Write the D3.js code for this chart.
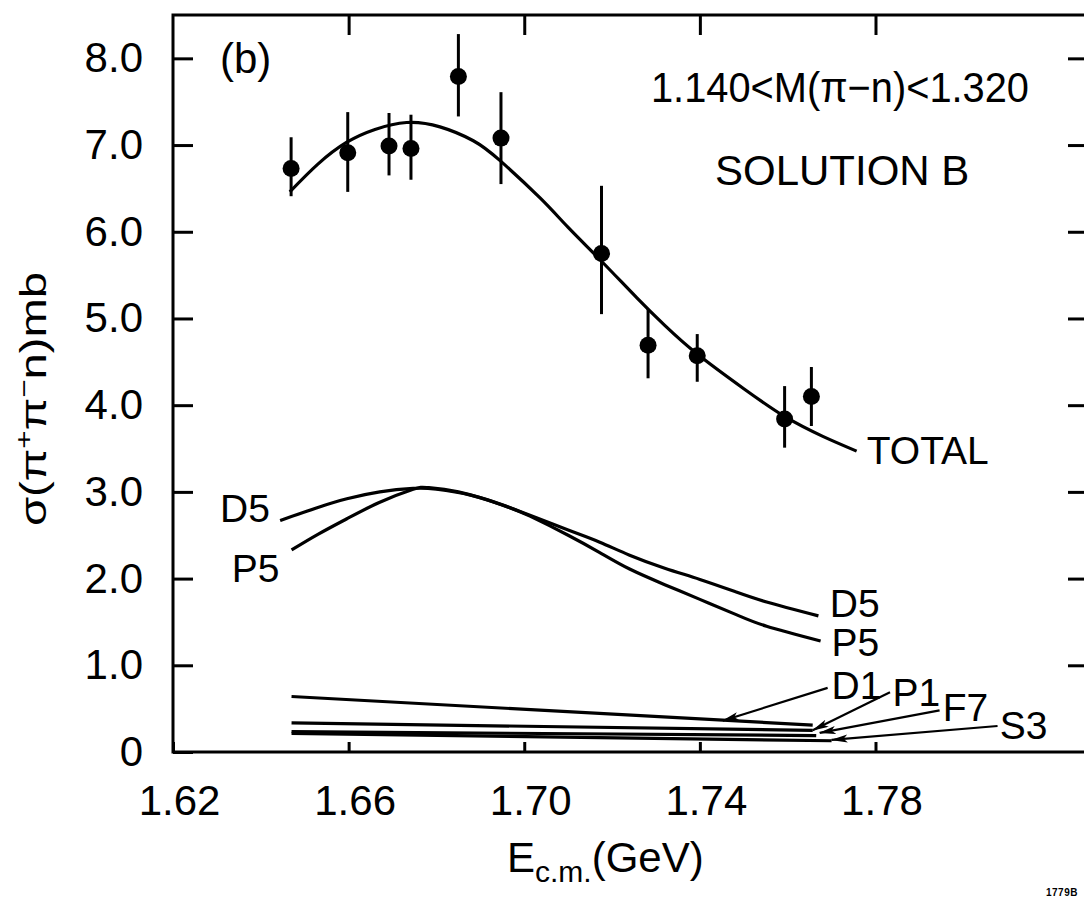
<!DOCTYPE html>
<html>
<head>
<meta charset="utf-8">
<script src="https://cdn.jsdelivr.net/npm/d3@7"></script>
<style>
body { margin: 0; background: #fff; }
svg text { font-family: "Liberation Sans", Arial, sans-serif; fill: #000; }
</style>
</head>
<body>
<svg id="chart" width="1084" height="907"></svg>
<script>
// values (b), solution B
var pointE = [1.6469, 1.6598, 1.6692, 1.6742, 1.6850, 1.6947, 1.7176, 1.7282, 1.7394, 1.7593, 1.7654];
var pointS = [6.73, 6.91, 6.99, 6.96, 7.79, 7.08, 5.75, 4.69, 4.57, 3.84, 4.10];
var errLow = [6.41, 6.46, 6.65, 6.60, 7.33, 6.55, 5.05, 4.31, 4.27, 3.51, 3.76];
var errHigh = [7.09, 7.38, 7.37, 7.35, 8.28, 7.61, 6.53, 5.11, 4.82, 4.22, 4.44];

var totalE = [1.6466, 1.6530, 1.6595, 1.6660, 1.6732, 1.6808, 1.6884, 1.6945, 1.7036, 1.7100, 1.7176, 1.7256, 1.7320, 1.7394, 1.7500, 1.7593, 1.7680, 1.7757];
var totalS = [6.46, 6.78, 7.03, 7.18, 7.26, 7.21, 7.05, 6.82, 6.39, 6.05, 5.66, 5.24, 4.92, 4.59, 4.19, 3.87, 3.64, 3.47];

var d5E = [1.6444, 1.6530, 1.6596, 1.6671, 1.6747, 1.6800, 1.6880, 1.6950, 1.7013, 1.7100, 1.7172, 1.7240, 1.7320, 1.7400, 1.7480, 1.7552, 1.7670];
var d5S = [2.67, 2.82, 2.92, 3.00, 3.04, 3.03, 2.96, 2.85, 2.73, 2.56, 2.42, 2.27, 2.12, 1.99, 1.85, 1.73, 1.57];

var p5E = [1.6470, 1.6530, 1.6596, 1.6671, 1.6747, 1.6780, 1.6850, 1.6950, 1.7013, 1.7100, 1.7172, 1.7240, 1.7320, 1.7400, 1.7480, 1.7552, 1.7675];
var p5S = [2.33, 2.51, 2.69, 2.88, 3.03, 3.05, 3.00, 2.85, 2.72, 2.50, 2.30, 2.11, 1.93, 1.76, 1.59, 1.45, 1.28];

var d1E = [1.647, 1.7657], d1S = [0.64, 0.31];
var p1E = [1.647, 1.7657], p1S = [0.335, 0.25];
var f7E = [1.647, 1.7665], f7S = [0.235, 0.19];
var s3E = [1.647, 1.7700], s3S = [0.215, 0.13];

var xTicks = [1.62, 1.66, 1.70, 1.74, 1.78];
var yTicks = [0, 1, 2, 3, 4, 5, 6, 7, 8];

// curve labels: text, E, sigma at the text baseline start
var labelText = ["TOTAL", "D5", "P5", "D5", "P5", "D1", "P1", "F7", "S3"];
var labelE = [1.7780, 1.7696, 1.7700, 1.6307, 1.6334, 1.7700, 1.7839, 1.7953, 1.8083];
var labelS = [3.32, 1.56, 1.11, 2.65, 1.96, 0.61, 0.53, 0.36, 0.15];

// arrows from the small labels to their lines
var arrowFromE = [1.7691, 1.7833, 1.7946, 1.8078];
var arrowFromS = [0.74, 0.69, 0.48, 0.30];
var arrowToE = [1.7452, 1.7657, 1.7673, 1.7700];
var arrowToS = [0.36, 0.25, 0.22, 0.14];

(function(d3) {

    var svg = d3.select("#chart");

    var x = d3.scaleLinear().domain([1.62, 1.8284]).range([173, 1088]);
    var y = d3.scaleLinear().domain([0, 8.5]).range([752, 15]);

    var smooth = d3.line()
        .x(function(d) { return x(d[0]); })
        .y(function(d) { return y(d[1]); })
        .curve(d3.curveNatural);

    var straight = d3.line()
        .x(function(d) { return x(d[0]); })
        .y(function(d) { return y(d[1]); });

    var zip = function(a, b) {
        return a.map(function(v, i) { return [v, b[i]]; });
    };

    svg.append("defs").append("marker")
        .attr("id", "head")
        .attr("markerUnits", "userSpaceOnUse")
        .attr("markerWidth", 20)
        .attr("markerHeight", 10)
        .attr("refX", 16)
        .attr("refY", 4)
        .attr("orient", "auto")
        .append("path")
        .attr("d", "M0,0L17,4L0,8L4,4Z")
        .attr("fill", "#000");

    // frame
    svg.append("rect")
        .attr("x", x(1.62)).attr("y", y(8.5))
        .attr("width", x(1.8284) - x(1.62))
        .attr("height", y(0) - y(8.5))
        .attr("fill", "none")
        .attr("stroke", "#000")
        .attr("stroke-width", 3);

    var fmt = function(d) { return d === 0 ? "0" : d3.format(".1f")(d); };

    var left = svg.append("g")
        .attr("transform", "translate(" + x(1.62) + ",0)")
        .call(d3.axisLeft(y).tickValues(yTicks).tickSize(-20).tickPadding(30).tickFormat(fmt));

    var right = svg.append("g")
        .attr("transform", "translate(" + x(1.8284) + ",0)")
        .call(d3.axisRight(y).tickValues(yTicks.slice(1)).tickSize(-20).tickFormat(""));

    var top = svg.append("g")
        .attr("transform", "translate(0," + y(8.5) + ")")
        .call(d3.axisTop(x).tickValues(xTicks.slice(1)).tickSize(-20).tickFormat(""));

    var bottom = svg.append("g")
        .attr("transform", "translate(0," + y(0) + ")")
        .call(d3.axisBottom(x).tickValues(xTicks).tickSize(-10).tickPadding(33).tickFormat(d3.format(".2f")));

    [left, right, top, bottom].forEach(function(g) {
        g.select(".domain").remove();
        g.selectAll(".tick line").attr("stroke", "#000").attr("stroke-width", 3);
        g.selectAll(".tick text")
            .attr("font-size", 42)
            .attr("font-family", "Liberation Sans, Arial, sans-serif")
            .attr("fill", "#000");
    });
    bottom.selectAll(".tick text").attr("dx", 6);

    // fitted curves
    [[totalE, totalS], [d5E, d5S], [p5E, p5S]].forEach(function(c) {
        svg.append("path")
            .attr("d", smooth(zip(c[0], c[1])))
            .attr("fill", "none")
            .attr("stroke", "#000")
            .attr("stroke-width", 3.2);
    });

    // small partial waves
    [[d1E, d1S], [p1E, p1S], [f7E, f7S], [s3E, s3S]].forEach(function(c) {
        svg.append("path")
            .attr("d", straight(zip(c[0], c[1])))
            .attr("fill", "none")
            .attr("stroke", "#000")
            .attr("stroke-width", 3.2);
    });

    // error bars and points
    var pts = svg.append("g").selectAll("g")
        .data(pointE.map(function(e, i) {
            return { e: e, s: pointS[i], lo: errLow[i], hi: errHigh[i] };
        }))
        .enter().append("g");

    pts.append("line")
        .attr("x1", function(d) { return x(d.e); })
        .attr("x2", function(d) { return x(d.e); })
        .attr("y1", function(d) { return y(d.lo); })
        .attr("y2", function(d) { return y(d.hi); })
        .attr("stroke", "#000")
        .attr("stroke-width", 3);

    pts.append("circle")
        .attr("cx", function(d) { return x(d.e); })
        .attr("cy", function(d) { return y(d.s); })
        .attr("r", 8.5)
        .attr("fill", "#000");

    // arrows
    svg.append("g").selectAll("line")
        .data(arrowFromE)
        .enter().append("line")
        .attr("x1", function(d) { return x(d); })
        .attr("y1", function(d, i) { return y(arrowFromS[i]); })
        .attr("x2", function(d, i) { return x(arrowToE[i]); })
        .attr("y2", function(d, i) { return y(arrowToS[i]); })
        .attr("stroke", "#000")
        .attr("stroke-width", 2.2)
        .attr("marker-end", "url(#head)");

    // curve labels
    svg.append("g").selectAll("text")
        .data(labelText)
        .enter().append("text")
        .attr("x", function(d, i) { return x(labelE[i]); })
        .attr("y", function(d, i) { return y(labelS[i]); })
        .attr("font-size", 39)
        .text(function(d) { return d; });

    // panel texts
    svg.append("text")
        .attr("x", 220).attr("y", 73)
        .attr("font-size", 42)
        .text("(b)");

    svg.append("text")
        .attr("x", 651).attr("y", 102)
        .attr("font-size", 42)
        .attr("textLength", 378)
        .attr("lengthAdjust", "spacingAndGlyphs")
        .text("1.140<M(π−n)<1.320");

    svg.append("text")
        .attr("x", 715).attr("y", 185)
        .attr("font-size", 42)
        .text("SOLUTION B");

    // axis titles
    var xt = svg.append("text")
        .attr("x", 507).attr("y", 872)
        .attr("font-size", 42);
    xt.append("tspan").text("E");
    xt.append("tspan").attr("font-size", 30).attr("dy", 10).text("c.m.");
    xt.append("tspan").attr("dy", -10).text("(GeV)");

    var yt = svg.append("text")
        .attr("transform", "translate(46,399) rotate(-90)")
        .attr("text-anchor", "middle")
        .attr("font-size", 36)
        .attr("textLength", 254)
        .attr("lengthAdjust", "spacingAndGlyphs");
    yt.append("tspan").text("σ(π");
    yt.append("tspan").attr("font-size", 24).attr("dy", -14).text("+");
    yt.append("tspan").attr("dy", 14).text("π");
    yt.append("tspan").attr("font-size", 24).attr("dy", -14).text("−");
    yt.append("tspan").attr("dy", 14).text("n)mb");

    svg.append("text")
        .attr("x", 1046).attr("y", 896)
        .attr("font-size", 10)
        .attr("font-weight", "bold")
        .attr("letter-spacing", 0.5)
        .text("1779B");

})(d3);
</script>
</body>
</html>
